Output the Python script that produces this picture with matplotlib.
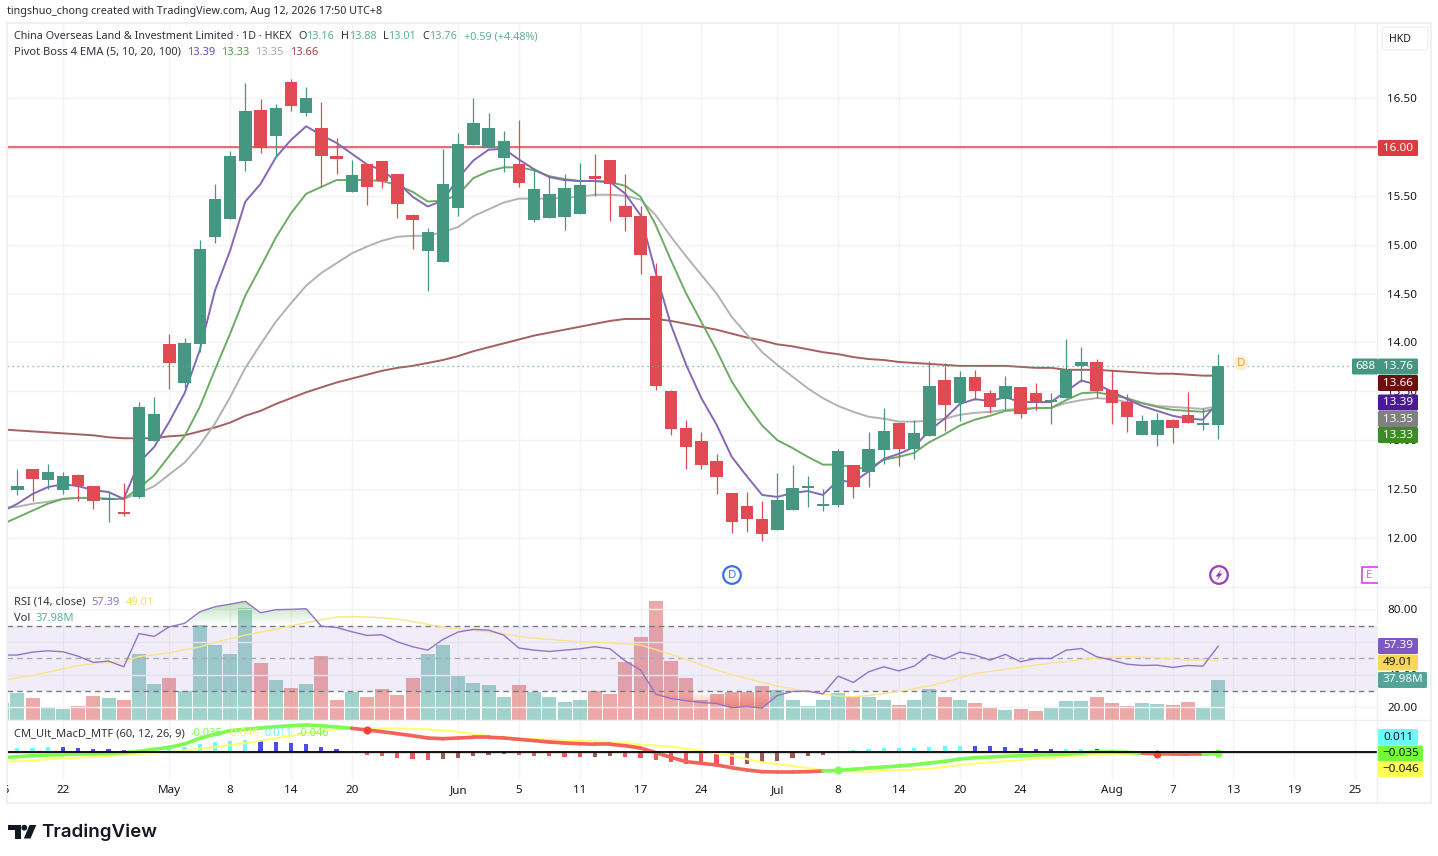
import numpy as np
import matplotlib
matplotlib.use("Agg")
import matplotlib.pyplot as plt
from matplotlib.patches import Rectangle, Circle, Polygon, FancyBboxPatch

plt.rcParams['font.family'] = ['Noto Sans', 'DejaVu Sans']

# daily bars, the first one is mostly cut off by the left edge
bars = np.arange(-4, 77)

opens = [12.33,12.49,12.71,12.59,12.49,12.64,12.53,12.39,12.27,12.42,12.99,13.98,13.59,13.98,15.08,15.26,15.86,16.38,16.11,16.66,
         16.35,16.19,15.91,15.54,15.82,15.86,15.72,15.30,14.93,14.82,15.37,16.02,15.99,15.89,15.82,15.25,15.27,15.28,15.31,15.70,
         15.87,15.39,15.29,14.68,13.50,13.12,12.99,12.79,12.46,12.33,12.19,12.08,12.29,12.51,12.33,12.34,12.75,12.67,12.90,13.18,
         12.91,13.04,13.62,13.38,13.65,13.48,13.42,13.54,13.48,13.39,13.43,13.76,13.80,13.51,13.39,13.05,13.05,13.21,13.26,13.16,13.16]
highs = [12.52,12.71,12.71,12.76,12.68,12.65,12.53,12.47,12.56,13.39,13.44,14.09,14.05,15.05,15.62,15.96,16.65,16.49,16.44,16.69,
         16.61,16.46,16.09,15.87,15.82,15.86,15.72,15.31,15.17,15.98,16.14,16.50,16.35,16.16,16.27,15.78,15.69,15.72,15.83,15.93,
         15.87,15.72,15.39,14.81,13.51,13.21,13.08,12.86,12.46,12.47,12.38,12.66,12.75,12.63,12.50,12.91,12.75,13.08,13.33,13.18,
         13.21,13.81,13.79,13.71,13.72,13.51,13.66,13.54,13.58,13.48,14.03,13.95,13.83,13.72,13.47,13.26,13.28,13.22,13.49,13.33,13.88]
lows = [12.33,12.44,12.38,12.50,12.45,12.38,12.30,12.16,12.22,12.41,12.99,13.52,13.53,13.90,15.02,15.26,15.75,15.94,15.90,16.37,
        16.31,15.59,15.72,15.54,15.40,15.58,15.27,14.95,14.53,14.82,15.29,16.02,15.99,15.74,15.59,15.23,15.27,15.15,15.31,15.50,
        15.24,15.14,14.70,13.51,13.05,12.71,12.71,12.45,12.05,12.06,11.97,12.08,12.29,12.32,12.28,12.32,12.41,12.52,12.76,12.74,
        12.81,13.04,13.09,13.20,13.41,13.28,13.32,13.23,13.31,13.17,13.43,13.60,13.43,13.17,13.08,13.05,12.94,12.97,13.18,13.10,13.01]
closes = [12.52,12.53,12.60,12.67,12.63,12.53,12.38,12.41,12.25,13.34,13.27,13.79,13.99,14.96,15.47,15.91,16.37,15.99,16.40,16.42,
          16.50,15.91,15.88,15.71,15.59,15.65,15.42,15.25,15.13,15.62,16.03,16.24,16.19,16.06,15.63,15.57,15.52,15.58,15.61,15.67,
          15.62,15.28,14.89,13.55,13.11,12.93,12.75,12.62,12.16,12.19,12.04,12.39,12.51,12.53,12.35,12.89,12.52,12.91,13.09,12.91,
          13.07,13.55,13.36,13.65,13.50,13.34,13.55,13.27,13.39,13.40,13.72,13.80,13.50,13.38,13.24,13.20,13.21,13.12,13.18,13.17,13.76]

ema5 = [12.27,12.35,12.45,12.52,12.55,12.53,12.49,12.47,12.40,12.77,12.93,13.19,13.48,13.92,14.53,14.94,15.44,15.62,15.89,16.07,
        16.21,16.12,16.04,15.93,15.82,15.76,15.64,15.49,15.39,15.45,15.68,15.86,15.97,15.98,15.87,15.77,15.69,15.66,15.65,15.65,
        15.64,15.52,15.30,14.71,14.18,13.77,13.43,13.16,12.83,12.63,12.44,12.42,12.46,12.48,12.44,12.59,12.57,12.68,12.81,12.86,
        12.93,13.10,13.22,13.37,13.42,13.40,13.44,13.39,13.39,13.39,13.50,13.61,13.57,13.50,13.42,13.35,13.30,13.25,13.22,13.21,13.39]
ema10 = [12.14,12.21,12.28,12.35,12.40,12.41,12.41,12.40,12.40,12.51,12.64,12.84,13.04,13.34,13.72,14.09,14.48,14.77,15.07,15.32,
         15.52,15.59,15.66,15.66,15.66,15.65,15.61,15.54,15.44,15.45,15.51,15.68,15.75,15.79,15.79,15.76,15.70,15.67,15.65,15.65,
         15.64,15.60,15.49,15.20,14.84,14.50,14.21,13.92,13.60,13.36,13.15,13.00,12.92,12.83,12.75,12.75,12.72,12.71,12.80,12.83,
         12.87,12.98,13.06,13.15,13.21,13.25,13.30,13.31,13.33,13.33,13.41,13.48,13.49,13.46,13.43,13.38,13.34,13.31,13.30,13.29,13.33]
ema20 = [12.31,12.32,12.35,12.37,12.40,12.41,12.41,12.40,12.40,12.46,12.53,12.65,12.77,12.95,13.17,13.44,13.74,13.98,14.21,14.40,
         14.58,14.71,14.81,14.91,14.98,15.04,15.08,15.09,15.09,15.13,15.18,15.29,15.36,15.43,15.47,15.47,15.47,15.48,15.49,15.51,
         15.51,15.50,15.46,15.30,15.08,14.88,14.69,14.50,14.26,14.08,13.90,13.77,13.65,13.53,13.43,13.35,13.29,13.24,13.22,13.19,
         13.19,13.20,13.22,13.26,13.28,13.29,13.31,13.32,13.33,13.33,13.38,13.41,13.43,13.42,13.39,13.38,13.35,13.34,13.33,13.32,13.35]
ema100 = [13.11,13.10,13.09,13.08,13.07,13.06,13.05,13.03,13.02,13.02,13.02,13.04,13.05,13.09,13.13,13.18,13.25,13.30,13.37,13.43,
          13.49,13.54,13.59,13.63,13.67,13.71,13.74,13.76,13.79,13.82,13.86,13.91,13.95,13.99,14.03,14.07,14.10,14.13,14.16,14.19,
          14.22,14.24,14.24,14.24,14.22,14.19,14.16,14.13,14.09,14.05,14.02,13.98,13.96,13.93,13.90,13.88,13.85,13.83,13.82,13.80,
          13.79,13.78,13.77,13.76,13.76,13.76,13.76,13.75,13.74,13.74,13.72,13.72,13.72,13.71,13.70,13.69,13.68,13.68,13.67,13.66,13.66]

vols = [15.3,25.2,20.1,10.9,9.9,12.8,22.7,20.1,19.1,62.6,33.5,39.6,27.1,90.3,71.1,62.5,106.5,54.2,38.0,30.0,
        33.5,60.6,18.2,26.5,21.1,29.0,23.6,39.6,62.5,71.1,41.5,35.1,32.5,21.7,32.5,26.5,21.7,16.3,18.2,27.1,
        24.6,55.2,78.5,112.9,55.8,39.6,18.5,24.6,26.2,26.2,31.6,28.1,18.2,12.8,19.1,25.2,21.7,21.7,19.1,13.7,
        18.2,29.0,21.1,19.1,15.3,11.2,8.9,9.9,8.0,11.2,17.2,17.2,21.1,15.3,12.8,15.3,14.7,13.7,16.3,11.8,37.98]

rsi = [52.0,52.0,53.8,54.6,54.0,51.3,47.5,48.3,44.8,65.2,63.4,69.3,71.4,78.5,81.6,83.2,84.9,77.9,79.8,80.0,
       80.4,69.7,68.9,66.3,64.0,64.4,60.1,57.1,55.0,61.6,66.1,67.7,67.3,64.2,56.3,55.0,54.2,55.0,55.8,57.1,
       55.8,48.3,42.8,28.0,25.4,24.0,22.9,22.3,19.8,20.3,19.6,27.2,29.7,29.9,28.2,39.1,35.2,41.7,44.8,42.3,
       45.2,52.4,49.5,53.8,52.0,48.9,52.4,47.9,49.9,49.9,55.0,56.0,51.0,48.9,46.4,45.6,45.8,44.4,45.6,45.2,57.39]
rsi_ma = [36.5,38.0,39.5,41.5,43.4,45.6,46.6,47.5,48.0,51.0,52.2,53.4,55.2,57.0,59.7,62.0,64.2,66.0,67.7,69.8,
          71.8,73.6,75.3,75.4,75.3,74.8,74.0,72.5,70.8,69.2,67.9,67.0,66.3,65.0,63.4,62.4,61.6,60.8,60.1,59.8,
          59.5,58.9,58.1,55.4,52.4,49.3,46.0,42.8,40.0,37.6,35.2,33.1,31.2,29.7,28.2,27.0,26.4,27.2,28.4,29.8,
          31.3,33.2,35.2,38.2,40.7,42.0,43.2,44.6,45.8,47.0,47.9,49.2,50.1,50.7,51.0,50.7,50.3,49.6,48.9,48.9,49.01]

macd = [-.14,-.117,-.092,-.075,-.067,-.05,-.042,-.033,-.017,.017,.067,.117,.2,.342,.442,.533,.567,.6,.633,.658,
        .675,.658,.625,.592,.55,.508,.458,.408,.35,.333,.35,.367,.367,.35,.317,.283,.25,.225,.208,.192,
        .192,.158,.1,-.017,-.133,-.242,-.283,-.325,-.392,-.45,-.492,-.5,-.5,-.492,-.475,-.458,-.433,-.4,-.375,-.35,
        -.317,-.275,-.233,-.175,-.14,-.125,-.108,-.092,-.075,-.067,-.05,-.025,0,0,-.008,-.033,-.042,-.05,-.058,-.058,-.035]
signal = [-.258,-.233,-.208,-.183,-.158,-.142,-.125,-.1,-.075,-.054,-.033,0,.033,.079,.125,.175,.225,.283,.342,.404,
          .467,.517,.567,.583,.592,.592,.592,.579,.567,.538,.508,.45,.40,.367,.345,.325,.308,.292,.279,.267,
          .25,.233,.192,.163,.133,.083,.025,-.033,-.092,-.175,-.258,-.304,-.35,-.4,-.45,-.475,-.483,-.49,-.475,-.458,
          -.438,-.417,-.371,-.325,-.292,-.258,-.229,-.2,-.171,-.142,-.117,-.092,-.075,-.058,-.05,-.042,-.042,-.042,-.042,-.042,-.046]
hist = [.09,.10,.11,.12,.117,.092,.067,.066,.042,.058,.075,.1,.133,.208,.242,.275,.3,.267,.26,.225,
        .2,.133,.067,0,-.067,-.1,-.142,-.167,-.192,-.167,-.142,-.092,-.067,-.06,-.067,-.092,-.1,-.117,-.125,-.117,
        -.092,-.117,-.142,-.192,-.25,-.30,-.308,-.32,-.33,-.308,-.258,-.217,-.142,-.092,-.067,0,.042,.067,.105,.108,
        .11,.133,.158,.16,.155,.142,.117,.092,.083,.067,.069,.072,.067,.05,.017,.008,-.008,-.017,-.025,-.025,.011]

macd_up = [True]*24 + [False]*31 + [True]*21 + [False]*4 + [True]
cross_bars = [20, 51, 72, 76]

price_ticks = [12.0, 12.5, 13.0, 13.5, 14.0, 14.5, 15.0, 15.5, 16.0, 16.5]
rsi_ticks = [20, 40, 60, 80]
day_bars = [0, 7, 11, 15, 19, 26, 30, 34, 38, 42, 47, 51, 55, 59, 63, 69, 73, 77, 81, 85]
day_labels = ['22', 'May', '8', '14', '20', 'Jun', '5', '11', '17', '24', 'Jul', '8', '14', '20', '24', 'Aug', '7', '13', '19', '25']
months = ['May', 'Jun', 'Jul', 'Aug']

opens, highs, lows, closes = map(np.array, (opens, highs, lows, closes))
rsi = np.array(rsi)
hist = np.array(hist)
macd = np.array(macd)

W, H = 1438, 856
GREEN = '#459782'
RED = '#e04a52'
TEXT = '#131722'
GRID = '#f2f3f5'
XLIM = (-3.68, 86.45)


def pane(top, bottom, ylim):
    # axes placed by pixel rows of the picture
    ax = fig.add_axes([7 / W, 1 - bottom / H, (1377 - 7) / W, (bottom - top) / H])
    ax.set_xlim(*XLIM)
    ax.set_ylim(*ylim)
    for s in ax.spines.values():
        s.set_visible(False)
    ax.patch.set_alpha(0)
    ax.set_xticks(day_bars)
    ax.tick_params(length=0, labelbottom=False)
    ax.yaxis.tick_right()
    return ax


fig = plt.figure(figsize=(W / 100, H / 100), dpi=100, facecolor='white')

# main pane
ax = pane(23, 587, (11.499, 17.266))
ax.set_yticks(price_ticks)
ax.set_yticklabels(['%.2f' % p for p in price_ticks], fontsize=8.4, color=TEXT)
ax.tick_params(axis='y', pad=7.5)
ax.grid(True, color=GRID, lw=1)
ax.set_axisbelow(True)

ax.axhline(16.0, color='#d9555b', lw=1.1, zorder=2)
ax.axhline(16.0, color='#d9555b', lw=2.4, alpha=0.2, zorder=2)
ax.plot(bars, ema100, color='#a4605f', lw=1.4, zorder=3)
ax.plot(bars, ema20, color='#b2b2b2', lw=1.4, zorder=3)
ax.plot(bars, ema10, color='#6dab66', lw=1.4, zorder=3)
ax.plot(bars, ema5, color='#8568b5', lw=1.4, zorder=3)

up = closes >= opens
cols = [GREEN if u else RED for u in up]
bodies = np.maximum(np.abs(closes - opens), 0.02)
ax.vlines(bars, lows, highs, colors=cols, lw=0.9, zorder=4)
ax.bar(bars, bodies, bottom=np.minimum(opens, closes), width=0.82, color=cols, lw=0, zorder=5)
ax.hlines(closes[-1], XLIM[0], 85.0, color='#5bb09c', lw=0.9, linestyles=(0, (1, 3)), zorder=6)

# volume under rsi, same rows
vax = pane(587, 719.5, (0, 126.6))
vax.set_yticks([])
vax.grid(True, axis='x', color=GRID, lw=1)
vax.set_axisbelow(True)
vol_cols = ['#45a89c' if u else '#dd5550' for u in up]
vax.bar(bars, vols, width=0.92, color=vol_cols, alpha=0.5, lw=0, zorder=2)

rax = pane(587, 719.5, (12.5, 93.7))
rax.set_yticks(rsi_ticks)
rax.set_yticklabels(['%.2f' % r for r in rsi_ticks], fontsize=8.4, color=TEXT)
rax.tick_params(axis='y', pad=7.5)
rax.grid(True, axis='y', color=GRID, lw=1)
rax.set_axisbelow(True)
rax.axhspan(30, 70, color='#7e57c2', alpha=0.1, lw=0)
for level, c in [(70, '#787b86'), (50, '#a9abb3'), (30, '#787b86')]:
    rax.axhline(level, color=c, lw=1, ls=(0, (4, 3)))

# gradient zones where rsi leaves the band
over = rax.fill_between(bars, rsi, 70, where=rsi >= 70, interpolate=True, facecolor='none', lw=0)
under = rax.fill_between(bars, rsi, 30, where=rsi <= 30, interpolate=True, facecolor='none', lw=0)
grad_up = np.zeros((64, 1, 4))
grad_up[..., :3] = (0.30, 0.69, 0.31)
grad_up[..., 3] = np.linspace(0.38, 0, 64)[:, None]
grad_dn = np.zeros((64, 1, 4))
grad_dn[..., :3] = (0.96, 0.26, 0.21)
grad_dn[..., 3] = np.linspace(0, 0.38, 64)[:, None]
for coll, grad, ext in [(over, grad_up, (70, 85)), (under, grad_dn, (19.6, 30))]:
    for path in coll.get_paths():
        im = rax.imshow(grad, extent=(bars[0], bars[-1], ext[0], ext[1]), aspect='auto', zorder=1.5)
        im.set_clip_path(path, transform=rax.transData)
rax.set_xlim(*XLIM)
rax.set_ylim(12.5, 93.7)
rax.plot(bars, rsi_ma, color='#fbe389', lw=1.0, zorder=3)
rax.plot(bars, rsi, color='#8f74c8', lw=1.0, zorder=3)

# macd pane
max_ = pane(719.5, 780, (-0.7, 0.8125))
max_.set_yticks([])
max_.grid(True, axis='x', color=GRID, lw=1)
max_.set_axisbelow(True)
hist_cols = []
prev = hist[0]
for h in hist:
    if h >= 0:
        hist_cols.append('#6bfbfb' if h >= prev else '#4b4de8')
    else:
        hist_cols.append('#f2555a' if h <= prev else '#9c5a55')
    prev = h
max_.bar(bars, hist, width=0.27, color=hist_cols, lw=0, zorder=2)
max_.plot(bars, signal, color='#ffff70', lw=1.5, zorder=3)
for i in range(len(bars) - 1):
    c = '#7dfb50' if macd_up[i + 1] else '#f4625c'
    max_.plot(bars[i:i + 2], macd[i:i + 2], color=c, lw=2.6, zorder=4, solid_capstyle='round')
for b in cross_bars:
    i = b - bars[0]
    max_.plot([b], [macd[i]], 'o', ms=5.8, mew=0, color='#7dfb50' if macd_up[i] else '#f44336', zorder=5)
max_.axhline(0, color='black', lw=1.3, zorder=6)
max_.axhline(-0.03, color='#d8d8d8', lw=0.8, zorder=1)

# x labels under the last pane
for b, lab in zip(day_bars, day_labels):
    fw = 'bold' if lab in months else 'normal'
    mx_px = 63 + 15.2 * b
    fig.text(mx_px / W, 1 - 790.5 / H, lab, fontsize=8.4, color=TEXT, ha='center', va='center', weight=fw)

# overlay in picture pixels for boxes, legends and icons
ov = fig.add_axes([0, 0, 1, 1], zorder=20)
ov.set_xlim(0, W)
ov.set_ylim(H, 0)
ov.axis('off')
ov.patch.set_alpha(0)
renderer = fig.canvas.get_renderer()

ov.add_patch(Rectangle((6.5, 22.5), 1424.5, 780.5, fill=False, ec='#eef0f3', lw=1.5))
ov.plot([1377, 1377], [23, 803], color='#eef0f3', lw=1)
ov.plot([7, 1431], [587, 587], color='#eef0f3', lw=1)
ov.plot([7, 1431], [719.5, 719.5], color='#eef0f3', lw=1)

ov.text(7, 11, 'tingshuo_chong created with TradingView.com, Aug 12, 2026 17:50 UTC+8',
        fontsize=7.75, color='#2a2e39', va='center')


def chain(x, y, parts, size=8.0):
    # row of differently coloured texts, each starts where the last one ended
    for txt, col, gap in parts:
        t = ov.text(x, y, txt, fontsize=size, color=col, va='center')
        x = t.get_window_extent(renderer).x1 + gap


VAL = '#5bb09c'
LAB = '#2f333f'
chain(14, 36.5, [('China Overseas Land & Investment Limited · 1D · HKEX', LAB, 6.5),
                 ('O', LAB, 0), ('13.16', VAL, 6.5),
                 ('H', LAB, 0), ('13.88', VAL, 6.5),
                 ('L', LAB, 0), ('13.01', VAL, 6.5),
                 ('C', LAB, 0), ('13.76', VAL, 6.5),
                 ('+0.59 (+4.48%)', VAL, 0)], size=7.8)
chain(14, 52, [('Pivot Boss 4 EMA (5, 10, 20, 100)', LAB, 6),
               ('13.39', '#6a4bb0', 6), ('13.33', '#4f9e46', 6),
               ('13.35', '#a8a8a8', 6), ('13.66', '#9c4545', 0)])
chain(14, 602.5, [('RSI (14, close)', LAB, 6), ('57.39', '#8f74c8', 6), ('49.01', '#f7d96b', 0)])
chain(14, 618.5, [('Vol', LAB, 5), ('37.98M', VAL, 0)])
chain(14, 734, [('CM_Ult_MacD_MTF (60, 12, 26, 9)', LAB, 6), ('-0.035', '#7dfb50', 5),
                ('-0.046', '#f5f56a', 5), ('0.011', '#6bfbfb', 5), ('-0.046', '#7dfb50', 0)])


def tag(x0, x1, yc, txt, bg, fg='white', h=16):
    ov.add_patch(FancyBboxPatch((x0 + 1, yc - h / 2 + 1), x1 - x0 - 2, h - 2, boxstyle='round,pad=1,rounding_size=1.5',
                                fc=bg, ec='none', zorder=3))
    ov.text((x0 + x1) / 2, yc, txt, fontsize=8.4, color=fg, ha='center', va='center', zorder=4)


tag(1378, 1418, 148, '16.00', '#dd3b42')
tag(1352, 1378, 366.5, '688', GREEN)
tag(1378, 1418, 366.5, '13.76', GREEN)
tag(1378, 1418, 383, '13.66', '#6d0f0f')
tag(1378, 1418, 402.5, '13.39', '#4a1a96')
tag(1378, 1418, 419, '13.35', '#808080')
tag(1378, 1418, 435, '13.33', '#388e22')
tag(1378, 1418, 646, '57.39', '#7e57c2')
tag(1378, 1418, 662.5, '49.01', '#f7d65a', TEXT)
tag(1378, 1427, 680, '37.98M', '#53a59a')
tag(1378, 1418, 737, '0.011', '#6bfbfb', TEXT)
tag(1378, 1423, 753.5, '\u22120.035', '#76fb3c', TEXT)
tag(1378, 1423, 769.5, '\u22120.046', '#ffff55', TEXT)

# currency button
ov.add_patch(FancyBboxPatch((1382, 27), 46, 23, boxstyle='round,pad=0,rounding_size=3', fc='white', ec='#eef0f3', lw=1))
ov.text(1400, 39, 'HKD', fontsize=7.6, color=TEXT, ha='center', va='center', zorder=4)

# event markers
ov.add_patch(Circle((732, 575), 8.8, fc='white', ec='#3f6fe8', lw=1.6))
ov.text(732, 575, 'D', fontsize=8.3, color='#3f6fe8', ha='center', va='center', weight='bold')
ov.add_patch(Circle((1219, 575), 8.8, fc='white', ec='#9c3bb8', lw=1.6))
ov.add_patch(Polygon([(1221.5, 569), (1215.5, 576.5), (1218.7, 576.5), (1216.5, 581), (1222.5, 573.5), (1219.3, 573.5)],
                     fc='#9c3bb8', ec='none'))
ov.plot([1377, 1362, 1362, 1377], [567, 567, 583, 583], color='#e05cf0', lw=1.4)
ov.text(1369.5, 575, 'E', fontsize=8.3, color='#e05cf0', ha='center', va='center', weight='bold')
ov.add_patch(Circle((1241, 363), 7.5, fc='#fdeed6', ec='none'))
ov.text(1241, 363, 'D', fontsize=8.3, color='#f19d38', ha='center', va='center')

# logo
ov.add_patch(Polygon([(8.3, 825), (21, 825), (21, 838.5), (14.8, 838.5), (14.8, 830.3), (8.3, 830.3)], fc='#131722', ec='none'))
ov.add_patch(Circle((24.3, 827.7), 2.9, fc='#131722', ec='none'))
ov.add_patch(Polygon([(29.5, 825), (36.3, 825), (30.5, 838.5), (23.8, 838.5)], fc='#131722', ec='none'))
ov.text(41.5, 832, 'TradingView', family='Inter', fontsize=13.5, weight='semibold', color='#131722', va='center')

# only the right edge of the "16" label shows at the left border
clip = ov.text(2.2, 790.5, '16', fontsize=8.4, color=TEXT, ha='center', va='center', clip_on=True)
clip.set_clip_path(Rectangle((7, 780), 20, 20, transform=ov.transData))

fig.savefig('out.png', dpi=100, facecolor='white')
